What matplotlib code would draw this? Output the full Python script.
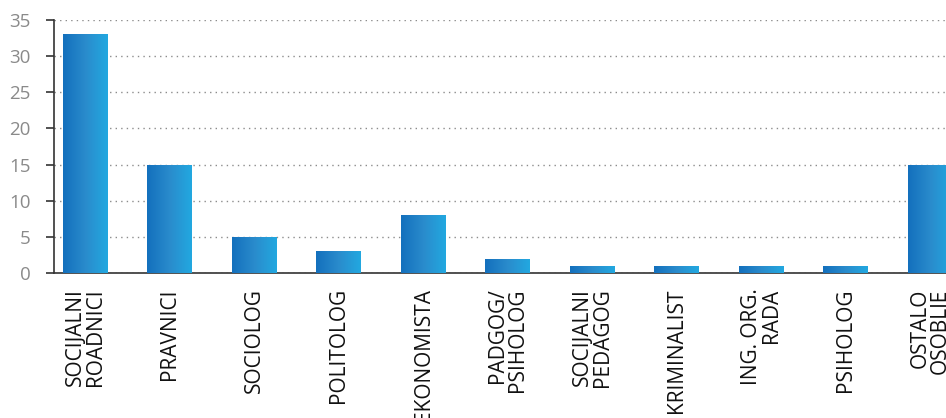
import numpy as np
import matplotlib.pyplot as plt
from matplotlib.colors import LinearSegmentedColormap

# Data
categories = [
    "SOCIJALNI\nROADNICI",
    "PRAVNICI",
    "SOCIOLOG",
    "POLITOLOG",
    "EKONOMISTA",
    "PADGOG/\nPSIHOLOG",
    "SOCIJALNI\nPEDAGOG",
    "KRIMINALIST",
    "ING. ORG.\nRADA",
    "PSIHOLOG",
    "OSTALO\nOSOBLJE",
]
values = [33, 15, 5, 3, 8, 2, 1, 1, 1, 1, 15]
y_ticks = [0, 5, 10, 15, 20, 25, 30, 35]

plt.rcParams["font.family"] = ["Open Sans", "DejaVu Sans"]

fig = plt.figure(figsize=(9.46, 4.18), dpi=100)
ax = fig.add_axes([54 / 946, 145 / 418, 1 - 54 / 946, 253 / 418])

x = np.arange(len(values))
bar_w = 0.53
grad = LinearSegmentedColormap.from_list("blu", ["#1370bd", "#2a8bcc", "#22a8e0"])
gimg = np.linspace(0, 1, 64).reshape(1, -1)

bars = ax.bar(x, values, width=bar_w, color="none", edgecolor="none", zorder=3)
for b in bars:
    x0, y0 = b.get_x(), b.get_y()
    im = ax.imshow(
        gimg,
        cmap=grad,
        aspect="auto",
        extent=[x0, x0 + b.get_width(), y0, y0 + b.get_height()],
        zorder=3,
        interpolation="bilinear",
    )
    im.set_clip_path(b)

ax.set_xlim(-0.37, 10.186)
ax.set_ylim(0, 35)
ax.set_yticks(y_ticks)
ax.yaxis.grid(True, linestyle=(0, (1, 3)), color="#8c8c8c", linewidth=1.0, zorder=0)
ax.xaxis.grid(False)
ax.set_axisbelow(True)

for s in ["top", "right"]:
    ax.spines[s].set_visible(False)
ax.spines["left"].set_color("#333333")
ax.spines["bottom"].set_color("#333333")
ax.spines["left"].set_linewidth(1.2)
ax.spines["bottom"].set_linewidth(1.2)

ax.tick_params(axis="y", colors="#333333", length=6, width=1.2, labelcolor="#8a8a8a",
               labelsize=13.5, pad=11)
ax.tick_params(axis="x", length=0, pad=11)
ax.set_xticks(x)
ax.set_xticklabels(categories, rotation=90, fontsize=15, color="#111111",
                   ha="center", va="top", multialignment="right", linespacing=0.95)

fig.savefig("out.png", dpi=100)
